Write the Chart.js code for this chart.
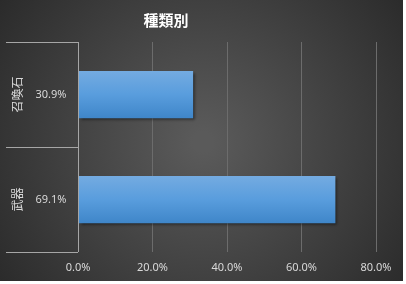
<!DOCTYPE html>
<html>
<head>
<meta charset="utf-8">
<script src="https://cdn.jsdelivr.net/npm/chart.js@4.4.1/dist/chart.umd.min.js"></script>
<style>
    html, body { margin: 0; padding: 0; background: #ffffff; }
    #divGrafico { width: 406px; height: 284px; }
</style>
</head>
<body>
<div id="divGrafico"><canvas id="grafico"></canvas></div>
<script>
// dados
var titulo = '種類別';
var categorias = ['召喚石', '武器'];
var porcentagens = [30.9, 69.1];
var ticksX = [0, 20, 40, 60, 80];

var corTexto = '#d9d9d9';
var corLinhas = '#a6a6a6';

// fundo escuro com gradiente radial
var pluginFundo = {
    id: 'fundo',
    beforeDraw: function (chart) {
        var ctx = chart.ctx;
        var w = chart.width, h = chart.height;
        ctx.save();
        var g = ctx.createRadialGradient(w * 0.5, h * 0.5, 10, w * 0.5, h * 0.5, w * 0.62);
        g.addColorStop(0, '#5a5a5a');
        g.addColorStop(1, '#2a2a2a');
        ctx.fillStyle = g;
        ctx.fillRect(0, 0, w - 3, h - 3);
        ctx.restore();
    }
};

// titulo e tabela de rotulos a esquerda
var pluginTabela = {
    id: 'tabela',
    afterDraw: function (chart) {
        var ctx = chart.ctx;
        var area = chart.chartArea;
        var escalaY = chart.scales.y;
        var passo = escalaY.getPixelForValue(1) - escalaY.getPixelForValue(0);
        ctx.save();

        ctx.strokeStyle = corLinhas;
        ctx.lineWidth = 1;
        ctx.beginPath();
        ctx.moveTo(area.left + 0.5, area.top);
        ctx.lineTo(area.left + 0.5, area.bottom);
        for (var i = 0; i <= categorias.length; i++) {
            var yl = Math.round(escalaY.getPixelForValue(i) - passo / 2) + 0.5;
            ctx.moveTo(6, yl);
            ctx.lineTo(area.left, yl);
        }
        ctx.stroke();

        for (var j = 0; j < categorias.length; j++) {
            var yc = escalaY.getPixelForValue(j);
            ctx.fillStyle = corTexto;
            ctx.font = '12px "Noto Sans CJK JP"';
            ctx.textAlign = 'center';
            ctx.textBaseline = 'middle';
            ctx.save();
            ctx.translate(17, yc);
            ctx.rotate(-Math.PI / 2);
            ctx.fillText(categorias[j], 0, 0);
            ctx.restore();

            ctx.font = '11px "Noto Sans"';
            ctx.fillText(porcentagens[j].toFixed(1) + '%', 51, yc);
        }

        ctx.fillStyle = '#ffffff';
        ctx.font = 'bold 15px "Noto Sans CJK JP"';
        ctx.textAlign = 'center';
        ctx.textBaseline = 'middle';
        ctx.fillText(titulo, 166, 20);
        ctx.restore();
    }
};

// sombra nas barras
var pluginSombra = {
    id: 'sombra',
    beforeDatasetsDraw: function (chart) {
        var ctx = chart.ctx;
        ctx.save();
        ctx.shadowColor = 'rgba(0,0,0,0.55)';
        ctx.shadowOffsetX = 2;
        ctx.shadowOffsetY = 2;
        ctx.shadowBlur = 3;
    },
    afterDatasetsDraw: function (chart) {
        chart.ctx.restore();
    }
};

function corBarra(context) {
    var chart = context.chart;
    if (!chart.chartArea) return '#5b9bd5';
    var escalaY = chart.scales.y;
    var yc = escalaY.getPixelForValue(context.dataIndex);
    var passo = escalaY.getPixelForValue(1) - escalaY.getPixelForValue(0);
    var h = passo * 0.45;
    var g = chart.ctx.createLinearGradient(0, yc - h / 2, 0, yc + h / 2);
    g.addColorStop(0, '#74abe1');
    g.addColorStop(0.5, '#599ddd');
    g.addColorStop(1, '#3f86c9');
    return g;
}

var contexto = document.getElementById('grafico').getContext('2d');
var meuGrafico = new Chart(contexto, {
    type: 'bar',
    data: {
        labels: categorias,
        datasets: [{
            data: porcentagens,
            backgroundColor: corBarra,
            borderWidth: 0,
            categoryPercentage: 1,
            barPercentage: 0.45
        }]
    },
    options: {
        indexAxis: 'y',
        responsive: true,
        maintainAspectRatio: false,
        animation: false,
        layout: { padding: { top: 42, left: 6, right: 30, bottom: 4 } },
        plugins: {
            legend: { display: false },
            title: { display: false },
            tooltip: { enabled: false }
        },
        scales: {
            x: {
                min: 0,
                max: 80,
                afterBuildTicks: function (scale) {
                    scale.ticks = ticksX.map(function (v) { return { value: v }; });
                },
                afterFit: function (scale) { scale.height = 28; },
                grid: { color: '#6c6c6c', drawTicks: false },
                border: { display: false },
                ticks: {
                    color: corTexto,
                    font: { family: 'Noto Sans', size: 11 },
                    padding: 9,
                    callback: function (v) { return v.toFixed(1) + '%'; }
                }
            },
            y: {
                afterFit: function (scale) { scale.width = 72; },
                grid: { display: false },
                border: { display: false },
                ticks: { display: false }
            }
        }
    },
    plugins: [pluginFundo, pluginTabela, pluginSombra]
});
</script>
</body>
</html>
